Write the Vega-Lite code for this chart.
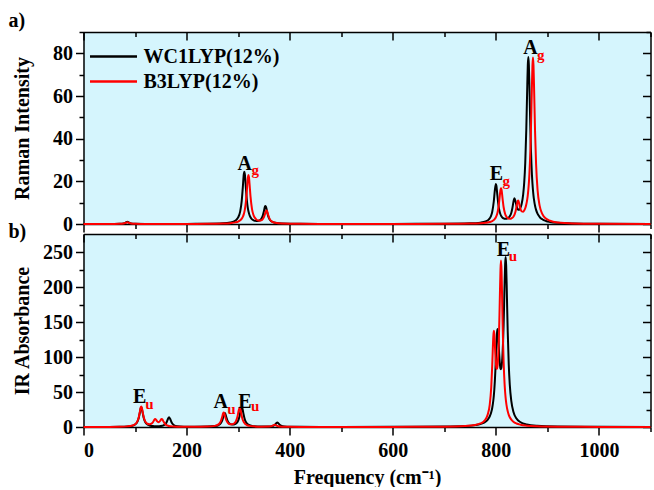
{
"$schema": "https://vega.github.io/schema/vega-lite/v6.json",
"padding": {"left": 8.5, "top": 11, "right": 0, "bottom": 0},
"spacing": 10,
"bounds": "flush",
"config": {
  "font": "Liberation Serif",
  "view": {"fill": "#d5f5fd", "stroke": null},
  "axis": {"domainColor": "#000000", "domainWidth": 1.5, "tickColor": "#000000", "tickWidth": 1.5, "labelFont": "Liberation Serif", "labelFontSize": 20, "labelFontWeight": "bold", "labelColor": "#000000", "titleFont": "Liberation Serif", "titleFontSize": 20, "titleFontWeight": "bold", "titleColor": "#000000", "grid": false, "labelPadding": 3, "labelOverlap": false},
  "title": {"font": "Liberation Serif", "fontSize": 20, "fontWeight": "bold", "color": "#000000"}
},
"resolve": {"legend": {"color": "independent"}},
"datasets": {
  "raman": [
    {"x":0,"w":0.01,"b":0.01},{"x":40,"w":0.02,"b":0.02},{"x":60,"w":0.04,"b":0.03},{"x":70,"w":0.09,"b":0.07},{"x":78,"w":0.30,"b":0.24},{"x":82,"w":0.70,"b":0.56},{"x":85,"w":1.01,"b":0.81},{"x":88,"w":0.70,"b":0.56},{"x":92,"w":0.30,"b":0.24},{"x":100,"w":0.09,"b":0.07},{"x":120,"w":0.03,"b":0.03},{"x":160,"w":0.03,"b":0.02},{"x":200,"w":0.05,"b":0.04},{"x":240,"w":0.11,"b":0.08},{"x":270,"w":0.30,"b":0.20},{"x":285,"w":0.70,"b":0.40},{"x":295,"w":1.65,"b":0.75},{"x":300,"w":3.07,"b":1.14},{"x":304,"w":5.93,"b":1.72},{"x":307,"w":11.0,"b":2.50},{"x":309,"w":16.96,"b":3.33},{"x":311,"w":23.34,"b":4.63},{"x":312,"w":24.49,"b":5.57},{"x":313,"w":23.34,"b":6.76},{"x":315,"w":16.98,"b":10.31},{"x":317,"w":11.02,"b":15.92},{"x":318,"w":8.89,"b":19.19},{"x":319,"w":7.24,"b":21.89},{"x":320,"w":5.99,"b":22.97},{"x":321,"w":5.00,"b":21.92},{"x":322,"w":4.24,"b":19.22},{"x":324,"w":3.15,"b":12.91},{"x":327,"w":2.18,"b":6.83},{"x":330,"w":1.73,"b":4.05},{"x":335,"w":1.38,"b":2.18},{"x":340,"w":1.49,"b":1.60},{"x":345,"w":2.42,"b":1.73},{"x":348,"w":4.05,"b":2.33},{"x":350,"w":6.01,"b":3.19},{"x":352,"w":8.12,"b":4.59},{"x":353,"w":8.49,"b":5.43},{"x":354,"w":8.09,"b":6.11},{"x":355,"w":7.12,"b":6.37},{"x":356,"w":5.92,"b":6.07},{"x":358,"w":3.90,"b":4.47},{"x":361,"w":2.17,"b":2.43},{"x":365,"w":1.18,"b":1.24},{"x":372,"w":0.58,"b":0.56},{"x":385,"w":0.25,"b":0.24},{"x":420,"w":0.08,"b":0.08},{"x":500,"w":0.04,"b":0.04},{"x":600,"w":0.05,"b":0.04},{"x":700,"w":0.11,"b":0.09},{"x":750,"w":0.30,"b":0.22},{"x":770,"w":0.63,"b":0.38},{"x":780,"w":1.17,"b":0.59},{"x":786,"w":2.05,"b":0.82},{"x":790,"w":3.46,"b":1.08},{"x":793,"w":5.77,"b":1.38},{"x":796,"w":10.67,"b":1.87},{"x":798,"w":15.74,"b":2.37},{"x":800,"w":18.80,"b":3.13},{"x":801,"w":17.95,"b":3.66},{"x":803,"w":13.25,"b":5.19},{"x":805,"w":8.84,"b":7.74},{"x":807,"w":6.07,"b":11.75},{"x":809,"w":4.45,"b":16.02},{"x":810,"w":3.91,"b":16.81},{"x":811,"w":3.50,"b":16.07},{"x":813,"w":2.94,"b":11.88},{"x":815,"w":2.62,"b":7.97},{"x":818,"w":2.41,"b":4.72},{"x":821,"w":2.49,"b":3.29},{"x":824,"w":2.84,"b":2.67},{"x":827,"w":3.63,"b":2.48},{"x":830,"w":5.31,"b":2.60},{"x":832,"w":7.38,"b":2.89},{"x":834,"w":10.24,"b":3.39},{"x":836,"w":12.09,"b":4.24},{"x":838,"w":10.80,"b":5.70},{"x":840,"w":8.53,"b":7.98},{"x":842,"w":7.12,"b":10.45},{"x":843,"w":6.80,"b":10.96},{"x":844,"w":6.66,"b":10.67},{"x":846,"w":6.92,"b":8.62},{"x":848,"w":7.81,"b":6.82},{"x":850,"w":9.41,"b":5.91},{"x":853,"w":13.91,"b":5.80},{"x":855,"w":19.39,"b":6.35},{"x":857,"w":28.62,"b":7.40},{"x":859,"w":44.06,"b":9.10},{"x":861,"w":65.53,"b":11.79},{"x":862,"w":74.70,"b":13.67},{"x":863,"w":78.30,"b":16.09},{"x":864,"w":74.66,"b":19.18},{"x":865,"w":65.44,"b":23.18},{"x":867,"w":43.88,"b":35.17},{"x":868,"w":35.17,"b":43.81},{"x":870,"w":23.05,"b":65.21},{"x":871,"w":18.98,"b":74.37},{"x":872,"w":15.82,"b":78.01},{"x":873,"w":13.35,"b":74.35},{"x":874,"w":11.40,"b":65.16},{"x":876,"w":8.53,"b":43.67},{"x":878,"w":6.61,"b":28.20},{"x":881,"w":4.74,"b":15.74},{"x":885,"w":3.27,"b":8.48},{"x":890,"w":2.22,"b":4.71},{"x":897,"w":1.42,"b":2.55},{"x":905,"w":0.96,"b":1.52},{"x":920,"w":0.53,"b":0.73},{"x":950,"w":0.24,"b":0.29},{"x":1000,"w":0.10,"b":0.12},{"x":1100,"w":0.03,"b":0.03}
  ],
  "ir": [
    {"x":0,"w":0.06,"b":0.06},{"x":40,"w":0.13,"b":0.15},{"x":70,"w":0.35,"b":0.40},{"x":85,"w":0.80,"b":0.90},{"x":95,"w":1.88,"b":2.07},{"x":100,"w":3.50,"b":3.79},{"x":104,"w":6.78,"b":7.24},{"x":107,"w":12.56,"b":13.31},{"x":109,"w":19.39,"b":20.46},{"x":111,"w":26.67,"b":28.09},{"x":112,"w":28.0,"b":29.49},{"x":113,"w":26.69,"b":28.14},{"x":115,"w":19.42,"b":20.61},{"x":117,"w":12.6,"b":13.57},{"x":120,"w":6.84,"b":7.71},{"x":124,"w":3.60,"b":4.64},{"x":128,"w":2.24,"b":3.85},{"x":132,"w":1.58,"b":4.71},{"x":135,"w":1.32,"b":7.11},{"x":137,"w":1.20,"b":9.79},{"x":139,"w":1.13,"b":11.50},{"x":141,"w":1.09,"b":10.17},{"x":143,"w":1.09,"b":8.0},{"x":145,"w":1.12,"b":6.96},{"x":147,"w":1.19,"b":7.31},{"x":149,"w":1.31,"b":9.05},{"x":151,"w":1.51,"b":11.20},{"x":152,"w":1.64,"b":11.50},{"x":153,"w":1.81,"b":10.88},{"x":155,"w":2.28,"b":8.03},{"x":158,"w":3.59,"b":4.44},{"x":161,"w":6.42,"b":2.67},{"x":164,"w":11.74,"b":1.78},{"x":166,"w":14.0,"b":1.42},{"x":168,"w":11.71,"b":1.16},{"x":171,"w":6.35,"b":0.90},{"x":175,"w":2.90,"b":0.67},{"x":182,"w":1.13,"b":0.45},{"x":195,"w":0.47,"b":0.33},{"x":215,"w":0.35,"b":0.34},{"x":240,"w":0.55,"b":0.62},{"x":255,"w":1.33,"b":1.62},{"x":262,"w":2.75,"b":3.76},{"x":266,"w":5.08,"b":7.65},{"x":269,"w":9.17,"b":14.35},{"x":271,"w":13.97,"b":19.63},{"x":272,"w":16.78,"b":20.64},{"x":273,"w":19.09,"b":19.70},{"x":274,"w":20.05,"b":17.41},{"x":275,"w":19.16,"b":14.60},{"x":277,"w":14.16,"b":9.83},{"x":280,"w":7.86,"b":5.88},{"x":284,"w":4.39,"b":4.00},{"x":288,"w":3.44,"b":3.78},{"x":292,"w":3.55,"b":4.94},{"x":296,"w":4.92,"b":8.74},{"x":299,"w":7.53,"b":15.90},{"x":301,"w":10.87,"b":23.39},{"x":303,"w":16.52,"b":27.86},{"x":305,"w":24.36,"b":23.28},{"x":307,"w":29.03,"b":15.66},{"x":308,"w":27.66,"b":12.60},{"x":310,"w":20.15,"b":8.32},{"x":313,"w":10.60,"b":4.88},{"x":317,"w":5.07,"b":2.78},{"x":322,"w":2.58,"b":1.64},{"x":330,"w":1.25,"b":0.90},{"x":345,"w":0.62,"b":0.48},{"x":360,"w":0.74,"b":0.66},{"x":365,"w":1.13,"b":1.29},{"x":368,"w":1.73,"b":2.27},{"x":370,"w":2.47,"b":3.04},{"x":371,"w":3.01,"b":3.18},{"x":372,"w":3.71,"b":3.04},{"x":374,"w":5.44,"b":2.25},{"x":376,"w":6.48,"b":1.51},{"x":378,"w":5.43,"b":1.04},{"x":381,"w":2.98,"b":0.66},{"x":386,"w":1.21,"b":0.39},{"x":395,"w":0.45,"b":0.22},{"x":420,"w":0.18,"b":0.14},{"x":500,"w":0.11,"b":0.09},{"x":600,"w":0.18,"b":0.15},{"x":700,"w":0.57,"b":0.51},{"x":740,"w":1.38,"b":1.36},{"x":760,"w":2.68,"b":2.92},{"x":770,"w":4.22,"b":5.05},{"x":778,"w":6.64,"b":9.18},{"x":784,"w":10.33,"b":17.33},{"x":788,"w":14.99,"b":31.41},{"x":791,"w":21.07,"b":56.67},{"x":793,"w":27.52,"b":89.07},{"x":795,"w":37.53,"b":128.5},{"x":796,"w":44.60,"b":137.68},{"x":797,"w":53.69,"b":133.1},{"x":798,"w":65.25,"b":119.21},{"x":799,"w":80.04,"b":103.84},{"x":800,"w":97.44,"b":91.79},{"x":801,"w":116.46,"b":84.73},{"x":802,"w":132.41,"b":82.86},{"x":803,"w":140.0,"b":85.9},{"x":804,"w":136.41,"b":94.58},{"x":805,"w":124.48,"b":109.14},{"x":806,"w":110.05,"b":131.05},{"x":807,"w":97.52,"b":160.59},{"x":808,"w":88.54,"b":195.14},{"x":809,"w":83.64,"b":225.81},{"x":810,"w":82.72,"b":237.99},{"x":811,"w":85.78,"b":223.39},{"x":812,"w":92.99,"b":190.18},{"x":813,"w":104.93,"b":152.82},{"x":814,"w":122.32,"b":120.11},{"x":815,"w":145.95,"b":94.38},{"x":816,"w":175.05,"b":75.13},{"x":817,"w":206.9,"b":60.53},{"x":818,"w":233.15,"b":49.63},{"x":819,"w":243.0,"b":41.30},{"x":820,"w":231.05,"b":34.84},{"x":821,"w":202.62,"b":29.78},{"x":822,"w":168.42,"b":25.67},{"x":823,"w":136.72,"b":22.38},{"x":825,"w":89.18,"b":17.45},{"x":827,"w":60.43,"b":13.98},{"x":830,"w":36.88,"b":10.45},{"x":834,"w":21.87,"b":7.50},{"x":840,"w":12.06,"b":4.99},{"x":848,"w":6.72,"b":3.22},{"x":860,"w":3.54,"b":1.93},{"x":880,"w":1.68,"b":1.02},{"x":920,"w":0.64,"b":0.43},{"x":1000,"w":0.21,"b":0.15},{"x":1100,"w":0.09,"b":0.07}
  ],
  "ann_r": [
    {"x":313,"y":25.5,"t":"A","k":"m"},{"x":333,"y":23.0,"t":"g","k":"s"},
    {"x":801,"y":20.7,"t":"E","k":"m"},{"x":820,"y":17.9,"t":"g","k":"s"},
    {"x":867,"y":79.9,"t":"A","k":"m"},{"x":887,"y":76.8,"t":"g","k":"s"}
  ],
  "ann_i": [
    {"x":109,"y":35,"t":"E","k":"m"},{"x":128,"y":25.4,"t":"u","k":"s"},
    {"x":266,"y":27.8,"t":"A","k":"m"},{"x":287,"y":19.2,"t":"u","k":"s"},
    {"x":313,"y":27.8,"t":"E","k":"m"},{"x":333,"y":23,"t":"u","k":"s"},
    {"x":814.6,"y":245,"t":"E","k":"m"},{"x":833,"y":237,"t":"u","k":"s"}
  ]
},
"vconcat": [
  {
    "width": 567, "height": 192,
    "title": {"text": "a)", "anchor": "start", "frame": "bounds", "offset": 0, "dx": -4},
    "layer": [
      {
        "data": {"name": "raman"},
        "transform": [{"fold": ["w", "b"], "as": ["s", "v"]}],
        "mark": {"type": "line", "strokeWidth": 2, "interpolate": "monotone"},
        "encoding": {
          "x": {"field": "x", "type": "quantitative", "scale": {"domain": [0, 1100], "nice": false},
                "axis": {"orient": "bottom", "values": [0,200,400,600,800,1000], "labels": false, "title": null, "tickSize": 8}},
          "y": {"field": "v", "type": "quantitative", "scale": {"domain": [0, 90], "nice": false},
                "axis": {"orient": "left", "values": [0,20,40,60,80], "title": "Raman Intensity", "format": "d",
                         "minExtent": 46, "maxExtent": 46, "titlePadding": 5, "tickSize": 8}},
          "color": {"field": "s", "type": "nominal", "scale": {"domain": ["w", "b"], "range": ["#000000", "#ff0000"]},
                    "legend": {"title": null, "orient": "none", "legendX": 18.5, "legendY": 13,
                               "labelExpr": "datum.label === 'w' ? 'WC1LYP(12%)' : 'B3LYP(12%)'",
                               "symbolType": "M-2.35,0L2.35,0", "symbolSize": 400, "symbolStrokeWidth": 2.5,
                               "labelFont": "Liberation Serif", "labelFontSize": 20, "labelFontWeight": "bold", "labelColor": "#000000",
                               "rowPadding": 3, "labelOffset": 18.5}}
        }
      },
      {
        "data": {"name": "ann_r"},
        "transform": [{"filter": "datum.k === 'm'"}],
        "mark": {"type": "text", "fontSize": 20, "fontWeight": "bold", "font": "Liberation Serif", "color": "#000000", "baseline": "alphabetic", "align": "center"},
        "encoding": {
          "x": {"field": "x", "type": "quantitative",
                "axis": {"orient": "top", "values": [0,200,400,600,800,1000], "labels": false, "title": null, "tickSize": -8}},
          "y": {"field": "y", "type": "quantitative",
                "axis": {"orient": "right", "values": [0,20,40,60,80], "labels": false, "title": null, "tickSize": -8}},
          "text": {"field": "t"}
        }
      },
      {
        "data": {"name": "ann_r"},
        "transform": [{"filter": "datum.k === 's'"}],
        "mark": {"type": "text", "fontSize": 15, "fontWeight": "bold", "font": "Liberation Serif", "color": "#ff0000", "baseline": "alphabetic", "align": "center"},
        "encoding": {
          "x": {"field": "x", "type": "quantitative",
                "axis": {"orient": "bottom", "values": [100,300,500,700,900,1100], "labels": false, "title": null, "domain": false, "tickSize": 4.5}},
          "y": {"field": "y", "type": "quantitative",
                "axis": {"orient": "left", "values": [10,30,50,70,90], "labels": false, "title": null, "domain": false, "tickSize": 4.5}},
          "text": {"field": "t"}
        }
      },
      {
        "data": {"name": "ann_r"},
        "transform": [{"filter": "datum.k === 'm'"}],
        "mark": {"type": "text", "fontSize": 20, "opacity": 0},
        "encoding": {
          "x": {"field": "x", "type": "quantitative",
                "axis": {"orient": "top", "values": [100,300,500,700,900,1100], "labels": false, "title": null, "domain": false, "tickSize": -4.5}},
          "y": {"field": "y", "type": "quantitative",
                "axis": {"orient": "right", "values": [10,30,50,70,90], "labels": false, "title": null, "domain": false, "tickSize": -4.5}},
          "text": {"field": "t"}
        }
      }
    ],
    "resolve": {"axis": {"x": "independent", "y": "independent"}}
  },
  {
    "width": 567, "height": 193,
    "title": {"text": "b)", "anchor": "start", "frame": "bounds", "offset": 0, "dx": -4, "dy": 9},
    "layer": [
      {
        "data": {"name": "ir"},
        "transform": [{"fold": ["w", "b"], "as": ["s", "v"]}],
        "mark": {"type": "line", "strokeWidth": 2, "interpolate": "monotone"},
        "encoding": {
          "x": {"field": "x", "type": "quantitative", "scale": {"domain": [0, 1100], "nice": false},
                "axis": {"orient": "bottom", "values": [0,200,400,600,800,1000], "title": "Frequency (cm⁻¹)", "format": "d",
                         "labelPadding": 5, "titlePadding": 7, "tickSize": 8}},
          "y": {"field": "v", "type": "quantitative", "scale": {"domain": [0, 276], "nice": false},
                "axis": {"orient": "left", "values": [0,50,100,150,200,250], "title": "IR Absorbance", "format": "d",
                         "minExtent": 46, "maxExtent": 46, "titlePadding": 5, "tickSize": 8}},
          "color": {"field": "s", "type": "nominal", "scale": {"domain": ["w", "b"], "range": ["#000000", "#ff0000"]}, "legend": null}
        }
      },
      {
        "data": {"name": "ann_i"},
        "transform": [{"filter": "datum.k === 'm'"}],
        "mark": {"type": "text", "fontSize": 20, "fontWeight": "bold", "font": "Liberation Serif", "color": "#000000", "baseline": "alphabetic", "align": "center"},
        "encoding": {
          "x": {"field": "x", "type": "quantitative",
                "axis": {"orient": "top", "values": [0,200,400,600,800,1000], "labels": false, "title": null, "tickSize": -8}},
          "y": {"field": "y", "type": "quantitative",
                "axis": {"orient": "right", "values": [0,50,100,150,200,250], "labels": false, "title": null, "tickSize": -8}},
          "text": {"field": "t"}
        }
      },
      {
        "data": {"name": "ann_i"},
        "transform": [{"filter": "datum.k === 's'"}],
        "mark": {"type": "text", "fontSize": 15, "fontWeight": "bold", "font": "Liberation Serif", "color": "#ff0000", "baseline": "alphabetic", "align": "center"},
        "encoding": {
          "x": {"field": "x", "type": "quantitative",
                "axis": {"orient": "bottom", "values": [100,300,500,700,900,1100], "labels": false, "title": null, "domain": false, "tickSize": 4.5}},
          "y": {"field": "y", "type": "quantitative",
                "axis": {"orient": "left", "values": [25,75,125,175,225], "labels": false, "title": null, "domain": false, "tickSize": 4.5}},
          "text": {"field": "t"}
        }
      },
      {
        "data": {"name": "ann_i"},
        "transform": [{"filter": "datum.k === 'm'"}],
        "mark": {"type": "text", "fontSize": 20, "opacity": 0},
        "encoding": {
          "x": {"field": "x", "type": "quantitative",
                "axis": {"orient": "top", "values": [100,300,500,700,900,1100], "labels": false, "title": null, "domain": false, "tickSize": -4.5}},
          "y": {"field": "y", "type": "quantitative",
                "axis": {"orient": "right", "values": [25,75,125,175,225], "labels": false, "title": null, "domain": false, "tickSize": -4.5}},
          "text": {"field": "t"}
        }
      }
    ],
    "resolve": {"axis": {"x": "independent", "y": "independent"}}
  }
]
}
